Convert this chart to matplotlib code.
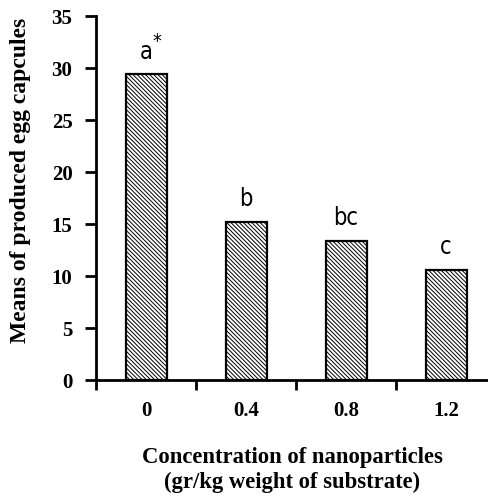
import matplotlib
matplotlib.use("Agg")
import matplotlib.pyplot as plt
from matplotlib import font_manager
import numpy as np

categories = ["0", "0.4", "0.8", "1.2"]
means = [29.4, 15.2, 13.4, 10.6]
letters = ["a", "b", "bc", "c"]
marks = ["*", "", "", ""]
yticks = [0, 5, 10, 15, 20, 25, 30, 35]

names = {f.name for f in font_manager.fontManager.ttflist}

plt.rcParams['hatch.linewidth'] = 0.7
fig = plt.figure(figsize=(4.88, 5.0), dpi=100)
ax = fig.add_axes([96/488, 120/500, 392/488, 364/500])

x = np.arange(len(categories))
ax.bar(x, means, width=0.41, color="white", edgecolor="black", linewidth=1.6,
       hatch="\\" * 8, zorder=2)

serif = ["Liberation Serif", "DejaVu Serif"]
if "Liberation Sans Narrow" in names:
    sans = dict(family=["Liberation Sans Narrow", "DejaVu Sans"])
else:
    sans = dict(family=["DejaVu Sans"], stretch="condensed")
for xi, m, lab, mk in zip(x, means, letters, marks):
    ax.text(xi, m + 1.5, lab, ha="center", va="baseline", fontsize=17, **sans)
    if mk:
        ax.annotate(mk, xy=(xi, m + 1.5), xytext=(5, 12), textcoords="offset points",
                    ha="left", va="center", fontsize=14, **sans)

ax.set_xlim(-0.5, 3.42)
ax.set_ylim(0, 35)
ax.set_yticks(yticks)
ax.set_yticklabels([str(v) for v in yticks], fontsize=15, fontweight="bold", family=serif)
ax.set_xticks(x)
ax.set_xticklabels(categories, fontsize=15, fontweight="bold", family=serif)
ax.tick_params(axis="x", which="major", length=0, pad=15)
ax.set_xticks(np.arange(-0.5, 3.5, 1.0), minor=True)
ax.tick_params(axis="x", which="minor", length=7, width=2, direction="out")
ax.tick_params(axis="y", length=8, width=2, direction="out", pad=9)

for s in ["top", "right"]:
    ax.spines[s].set_visible(False)
for s in ["left", "bottom"]:
    ax.spines[s].set_linewidth(2)

ax.set_ylabel("Means of produced egg capcules", fontsize=17, fontweight="bold",
              family=serif)
ax.yaxis.set_label_coords(-0.165, 0.549)
ax.set_xlabel("Concentration of nanoparticles\n(gr/kg weight of substrate)",
              fontsize=16.3, fontweight="bold", family=serif, labelpad=19, linespacing=1.2)

fig.savefig("out.png", dpi=100)
